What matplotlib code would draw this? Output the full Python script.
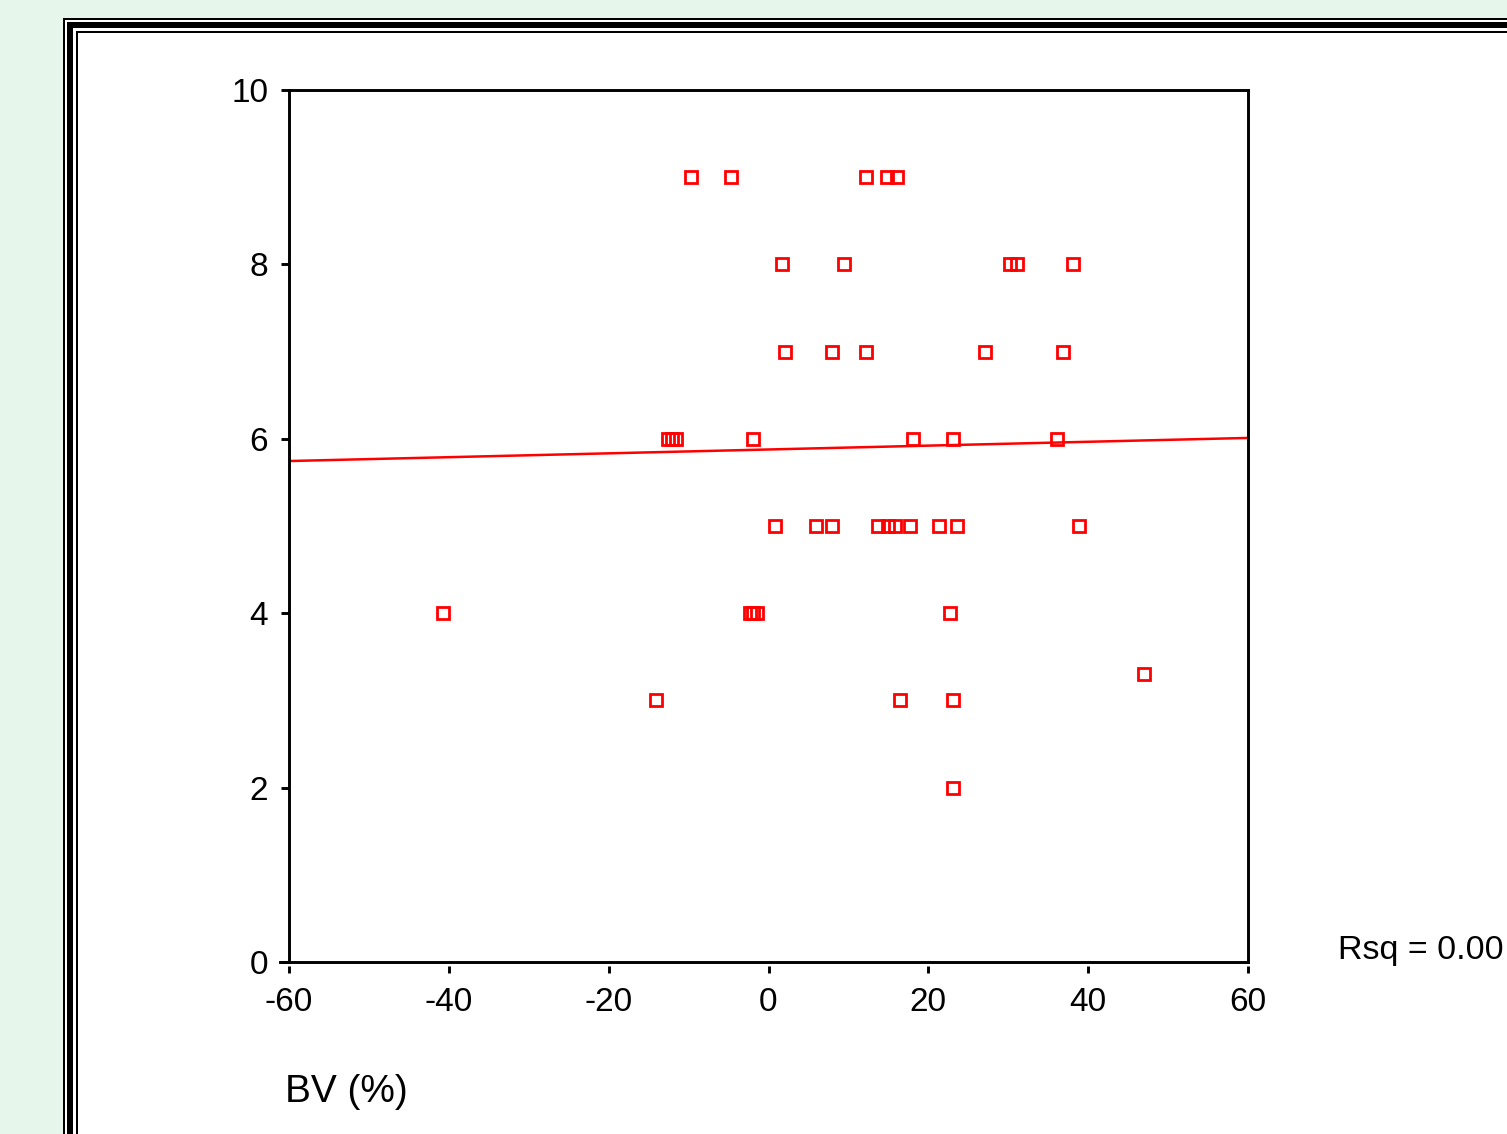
import numpy as np
import matplotlib.pyplot as plt
from matplotlib.lines import Line2D
from matplotlib.patches import Rectangle

plt.rcParams['font.family'] = ['Liberation Sans', 'DejaVu Sans']
plt.rcParams['axes.unicode_minus'] = False

# BV (%) vs score, one list per score row
bv_9 = [-9.7, -4.7, 12.2, 14.8, 16.1]
bv_8 = [1.7, 9.5, 30.2, 31.1, 38.1]
bv_7 = [2.1, 7.9, 12.2, 27.1, 36.9]
bv_6 = [-12.6, -12.1, -11.6, -1.9, 18.1, 23.1, 36.1]
bv_5 = [0.8, 6.0, 7.9, 13.7, 14.95, 15.8, 17.7, 21.3, 23.6, 38.8]
bv_4 = [-40.7, -2.3, -1.9, -1.5, 22.7]
bv_3 = [-14.1, 16.5, 23.1]
bv_33 = [47.0]
bv_2 = [23.1]

rows = [(9, bv_9), (8, bv_8), (7, bv_7), (6, bv_6), (5, bv_5),
        (4, bv_4), (3, bv_3), (3.3, bv_33), (2, bv_2)]

# fitted line ends
fit_x = [-60, 60]
fit_y = [5.745, 6.01]

W, H = 1507, 1134
fig = plt.figure(figsize=(W / 100, H / 100), dpi=100, facecolor='#e6f6ea')


def fx(px):
    return px / W


def fy(py):
    return 1 - py / H


# white slide panel with triple frame
fig.add_artist(Rectangle((fx(63), fy(H + 50)), 2, fy(18) - fy(H + 50),
                         transform=fig.transFigure, facecolor='white',
                         edgecolor='none', zorder=0))
for px, py, lw in [(64.2, 19, 2.0), (69.7, 25, 6.0), (77, 31.8, 2.0)]:
    fig.add_artist(Line2D([fx(px), fx(px)], [fy(py), fy(H + 20)],
                          transform=fig.transFigure, color='black', lw=lw * 0.72))
    fig.add_artist(Line2D([fx(px), fx(W + 20)], [fy(py), fy(py)],
                          transform=fig.transFigure, color='black', lw=lw * 0.72))

ax = fig.add_axes([fx(289), fy(962), fx(1248) - fx(289), fy(90) - fy(962)])
ax.set_facecolor('white')

for score, xs in rows:
    ax.plot(xs, [score] * len(xs), linestyle='none', marker='s', markersize=9.3,
            markerfacecolor='none', markeredgecolor='red', markeredgewidth=2.0,
            clip_on=False, zorder=3)

ax.plot(fit_x, fit_y, color='red', lw=1.8, zorder=2)

ax.set_xlim(-60, 60)
ax.set_ylim(0, 10)
ax.set_xticks(np.arange(-60, 61, 20))
ax.set_yticks(np.arange(0, 11, 2))

for s in ['left', 'top', 'right']:
    ax.spines[s].set_linewidth(2.1)
ax.spines['bottom'].set_position(('outward', 3))
ax.spines['bottom'].set_color('none')
ax.axhline(0, xmin=-0.009, xmax=1, color='black', lw=2.1, clip_on=False)

ax.tick_params(axis='y', length=6, width=2.1, pad=9, labelsize=24)
ax.tick_params(axis='x', length=5, width=2.1, pad=10, labelsize=24)

fig.text(fx(1504), fy(950), 'Rsq = 0.00', fontsize=24.5, va='center', ha='right')
fig.text(fx(285), fy(1092), 'BV (%)', fontsize=28, va='center', ha='left')

fig.savefig('out.png', dpi=100, facecolor=fig.get_facecolor())
